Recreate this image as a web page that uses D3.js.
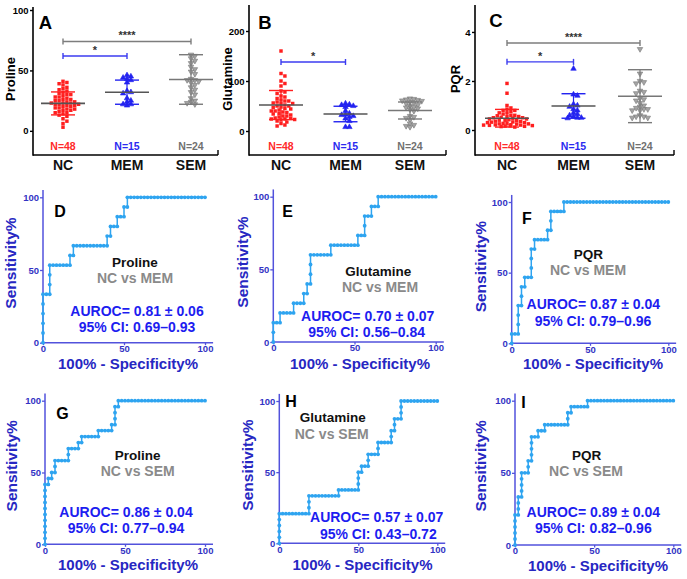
<!DOCTYPE html>
<html><head><meta charset="utf-8">
<script src="https://cdn.jsdelivr.net/npm/d3@7"></script>
<style>
body{margin:0;background:#fff}
svg{display:block}
text{font-family:"Liberation Sans",Arial,Helvetica,sans-serif;font-weight:bold}
</style>
</head><body>
<svg id="c" width="687" height="579"></svg>
<script>
// ---------------- DATA ----------------
const groups = ["NC", "MEM", "SEM"];
const groupN = ["N=48", "N=15", "N=24"];

const prolineNC = [3,6,8,10,12,13,14,15,15,16,17,17,18,18,19,19,20,20,21,21,22,22,22,23,23,23,24,24,25,25,26,26,27,28,28,29,30,30,31,32,33,34,35,36,38,39,40,41];
const prolineMEM = [21,22,22,24,25,27,31,32,33,40,42,43,44,45,46];
const prolineSEM = [63,62,60,58,56,53,51,49,47,43,42,42,41,40,38,36,34,32,30,27,25,24,23,22];
const prolineMean = [22.7, 32, 42.5];
const prolineSD = [9.5, 10, 20.5];

const glutNC = [160,115,110,100,95,90,80,78,75,70,68,65,62,60,60,58,56,55,55,52,50,50,48,47,45,44,42,40,40,38,37,35,34,32,30,30,28,26,25,24,24,23,22,20,18,15,12,10];
const glutMEM = [55,53,52,50,48,40,35,33,32,30,28,25,20,8,8];
const glutSEM = [65,64,63,62,61,60,58,57,55,52,50,48,47,45,43,40,30,28,26,22,15,12,10,8];
const glutMean = [52, 34, 41];
const glutSD = [29, 15.5, 17];

const pqrNC = [1.9,1.5,1.0,0.9,0.85,0.8,0.8,0.75,0.7,0.7,0.65,0.6,0.6,0.58,0.55,0.55,0.52,0.5,0.5,0.48,0.45,0.45,0.42,0.4,0.4,0.38,0.36,0.35,0.33,0.32,0.3,0.3,0.28,0.27,0.25,0.25,0.24,0.22,0.21,0.2,0.2,0.19,0.18,0.17,0.16,0.15,0.14,0.12];
const pqrMEM = [2.5,1.45,1.4,1.05,1.0,0.95,0.85,0.8,0.7,0.65,0.6,0.55,0.5,0.5,0.48];
const pqrSEM = [3.3,2.3,2.0,1.95,1.9,1.6,1.55,1.5,1.3,1.25,1.2,1.1,1.0,0.95,0.9,0.85,0.85,0.8,0.8,0.6,0.55,0.55,0.5,0.5];
const pqrMean = [0.48, 0.98, 1.38];
const pqrSD = [0.36, 0.5, 1.08];

// significance brackets: [fromGroup, toGroup, yValue, label]
const prolineSig = [["NC","SEM",74,"****"],["NC","MEM",62,"*"]];
const glutSig = [["NC","MEM",138,"*"]];
const pqrSig = [["NC","SEM",3.55,"****"],["NC","MEM",2.78,"*"]];

const yTicksProline = [0,50,100];
const yTicksGlut = [0,100,200];
const yTicksPQR = [0,2,4];

// ROC curves: vertices as [false-positive count, true-positive count]
const nNC = 48, nMEM = 15, nSEM = 24;
const rocD = [[0,0],[0,5],[2,5],[2,8],[8,8],[8,9],[9,9],[9,10],[19,10],[19,11],[20,11],[20,12],[22,12],[22,13],[24,13],[24,14],[25,14],[25,15],[48,15]];
const rocE = [[0,0],[0,2],[2,2],[2,3],[6,3],[6,4],[9,4],[9,5],[10,5],[10,6],[11,6],[11,9],[17,9],[17,10],[25,10],[25,11],[27,11],[27,13],[29,13],[29,14],[31,14],[31,15],[48,15]];
const rocF = [[0,0],[0,1],[2,1],[2,4],[3,4],[3,6],[4,6],[4,7],[6,7],[6,10],[7,10],[7,11],[11,11],[11,12],[12,12],[12,14],[16,14],[16,15],[48,15]];
const rocG = [[0,0],[0,10],[1,10],[1,11],[2,11],[2,12],[3,12],[3,14],[7,14],[7,16],[10,16],[10,17],[11,17],[11,18],[16,18],[16,19],[20,19],[20,20],[21,20],[21,23],[22,23],[22,24],[48,24]];
const rocH = [[0,0],[0,5],[9,5],[9,8],[18,8],[18,9],[24,9],[24,12],[25,12],[25,13],[27,13],[27,15],[30,15],[30,17],[34,17],[34,19],[35,19],[35,21],[37,21],[37,24],[48,24]];
const rocI = [[0,0],[0,5],[1,5],[1,8],[2,8],[2,12],[4,12],[4,14],[5,14],[5,18],[7,18],[7,19],[9,19],[9,20],[16,20],[16,22],[17,22],[17,23],[22,23],[22,24],[48,24]];
const rocTicks = [0,50,100];

const rocNames = ["Proline","Glutamine","PQR","Proline","Glutamine","PQR"];
const rocCompare = ["NC vs MEM","NC vs MEM","NC vs MEM","NC vs SEM","NC vs SEM","NC vs SEM"];
const rocAuc = ["AUROC= 0.81 \u00b1 0.06","AUROC= 0.70 \u00b1 0.07","AUROC= 0.87 \u00b1 0.04","AUROC= 0.86 \u00b1 0.04","AUROC= 0.57 \u00b1 0.07","AUROC= 0.89 \u00b1 0.04"];
const rocCI = ["95% CI: 0.69\u20130.93","95% CI: 0.56\u20130.84","95% CI: 0.79\u20130.96","95% CI: 0.77\u20130.94","95% CI: 0.43\u20130.72","95% CI: 0.82\u20130.96"];

// ---------------- DRAW ----------------
const svg = d3.select("#c");
const colRed = "#ff1f1f", colBlue = "#2323f0", colGray = "#7a7a7a";
const groupColors = [colRed, colBlue, colGray];
const nColors = ["#ff2a2a", "#2a2af0", "#707070"];

const topPanels = [
  {letter:"A", lx:45.5, ly:29, title:"Proline", tx:15, data:[prolineNC,prolineMEM,prolineSEM], mean:prolineMean, sd:prolineSD,
   domain:[-20,102.5], yTop:7, ticks:yTicksProline, sig:prolineSig, ax:33, xEnd:218, cat:[63,191]},
  {letter:"B", lx:265, ly:28.5, title:"Glutamine", tx:231.5, data:[glutNC,glutMEM,glutSEM], mean:glutMean, sd:glutSD,
   domain:[-48,252], yTop:5, ticks:yTicksGlut, sig:glutSig, ax:249, xEnd:446, cat:[281,410]},
  {letter:"C", lx:496, ly:27, title:"PQR", tx:460, data:[pqrNC,pqrMEM,pqrSEM], mean:pqrMean, sd:pqrSD,
   domain:[-1.02,5.1], yTop:5, ticks:yTicksPQR, sig:pqrSig, ax:475, xEnd:674, cat:[507,640]}
];

function swarm(vals, y, cx, d, maxHalf) {
  const pts = vals.map(v => ({v, y: y(v)})).sort((a,b) => a.y - b.y);
  const placed = [];
  for (const p of pts) {
    let chosen = 0;
    for (let k = 0; k < 80; k++) {
      const cands = k === 0 ? [0] : [k*d*0.5, -k*d*0.5];
      let ok = null;
      for (const dx of cands) {
        if (Math.abs(dx) > maxHalf) continue;
        if (placed.every(q => (q.dx-dx)*(q.dx-dx) + (q.y-p.y)*(q.y-p.y) >= d*d*0.7)) { ok = dx; break; }
      }
      if (ok !== null) { chosen = ok; break; }
      if (k*d*0.5 > maxHalf) { chosen = (placed.length % 2 ? 1 : -1) * ((placed.length * 3.7) % maxHalf); break; }
    }
    p.dx = chosen; placed.push(p);
  }
  return pts.map(p => ({v:p.v, x: cx + p.dx, y: p.y}));
}

topPanels.forEach(p => {
  const g = svg.append("g");
  const yBot = 155, yTop = p.yTop;
  const y = d3.scaleLinear().domain(p.domain).range([yBot, yTop]);
  const x = d3.scalePoint().domain(groups).range(p.cat);

  // axes
  g.append("line").attr("x1",p.ax).attr("x2",p.ax).attr("y1",yTop).attr("y2",yBot+0.8).attr("stroke","#000").attr("stroke-width",1.6);
  g.append("line").attr("x1",p.ax).attr("x2",p.xEnd).attr("y1",yBot).attr("y2",yBot).attr("stroke","#000").attr("stroke-width",1.6);
  g.append("line").attr("x1",p.xEnd).attr("x2",p.xEnd).attr("y1",yBot-5).attr("y2",yBot).attr("stroke","#000").attr("stroke-width",1.4);
  const axg = g.append("g").attr("transform",`translate(${p.ax},0)`)
    .call(d3.axisLeft(y).tickValues(p.ticks).tickSize(3).tickPadding(1.5).tickFormat(d3.format("d")));
  axg.select(".domain").remove();
  axg.selectAll(".tick line").attr("stroke","#000").attr("stroke-width",1.4);
  axg.selectAll(".tick text").attr("font-size",9.5).attr("fill","#000");
  axg.attr("font-family",null);

  // letter + title
  g.append("text").attr("x",p.lx).attr("y",p.ly).attr("text-anchor","middle").attr("font-size",18.5).attr("fill","#000").text(p.letter);
  g.append("text").attr("transform",`translate(${p.tx},79) rotate(-90)`).attr("text-anchor","middle").attr("font-size",13).attr("fill","#000").text(p.title);

  // points
  const shapes = [d3.symbolSquare, d3.symbolTriangle, d3.symbolTriangle];
  const sizes = [12, 13, 13];
  const halfW = [26, 14, 15];
  p.data.forEach((vals, i) => {
    const pts = swarm(vals, y, x(groups[i]), 3.9, halfW[i]);
    g.append("g").selectAll("path").data(pts).join("path")
      .attr("d", d3.symbol(shapes[i], sizes[i]))
      .attr("transform", d => `translate(${d.x},${d.y})` + (i === 2 ? " rotate(180)" : ""))
      .attr("fill", i === 2 ? "#a5a5a5" : groupColors[i])
      .attr("stroke", i === 0 ? "none" : (i === 2 ? "#777" : groupColors[i]))
      .attr("stroke-width", 0.6);
  });

  // mean / SD lines
  groups.forEach((gname, i) => {
    const cx = x(gname), m = p.mean[i], s = p.sd[i];
    const c = groupColors[i];
    g.append("line").attr("x1",cx).attr("x2",cx).attr("y1",y(m+s)).attr("y2",y(m-s)).attr("stroke",c).attr("stroke-width",1.2);
    [m+s, m-s].forEach(v => {
      g.append("line").attr("x1",cx-12).attr("x2",cx+12).attr("y1",y(v)).attr("y2",y(v)).attr("stroke",c).attr("stroke-width",1.4);
    });
    g.append("line").attr("x1",cx-22).attr("x2",cx+22).attr("y1",y(m)).attr("y2",y(m)).attr("stroke", i===2 ? "#777" : "#555").attr("stroke-width",1.6);
  });

  // significance
  p.sig.forEach(([a,b,v,lab]) => {
    const c = lab.length > 1 ? "#7d7d7d" : "#3b3bf0";
    const yy = y(v), xa = x(a), xb = x(b);
    g.append("line").attr("x1",xa).attr("x2",xb).attr("y1",yy).attr("y2",yy).attr("stroke",c).attr("stroke-width",1.4);
    [xa,xb].forEach(xx => g.append("line").attr("x1",xx).attr("x2",xx).attr("y1",yy-3).attr("y2",yy+3).attr("stroke",c).attr("stroke-width",1.4));
    g.append("text").attr("x",(xa+xb)/2).attr("y",yy-2).attr("text-anchor","middle").attr("font-size",11).attr("fill","#333").text(lab);
  });

  // N labels + category labels
  groups.forEach((gname, i) => {
    g.append("text").attr("x",x(gname)).attr("y",150).attr("text-anchor","middle").attr("font-size",10.5).attr("fill",nColors[i]).text(groupN[i]);
    g.append("text").attr("x",x(gname)).attr("y",169.5).attr("text-anchor","middle").attr("font-size",14).attr("fill","#111").text(gname);
  });
});

// ROC panels
const rocPanels = [
  {letter:"D", verts:rocD, nPos:nMEM, x0:43, x1:205, yb:342.7, yt:197.3, lx:60, ly:217, ytx:16, yty:263, xtx:128, xty:369,
   t:[[135,266.5],[135,282.5],[137,316],[137,332]]},
  {letter:"E", verts:rocE, nPos:nMEM, x0:273.3, x1:435.7, yb:342, yt:196.7, lx:287.5, ly:216.5, ytx:247.5, yty:262, xtx:360, xty:369,
   t:[[378.3,276],[380,292],[367.7,321],[366.7,336.7]]},
  {letter:"F", verts:rocF, nPos:nMEM, x0:511.7, x1:668.3, yb:343.3, yt:202, lx:527, ly:224, ytx:485.5, yty:266.7, xtx:593, xty:369,
   t:[[588.3,258.5],[588,275],[593.3,309],[593,326]]},
  {letter:"G", verts:rocG, nPos:nSEM, x0:45, x1:205, yb:544.3, yt:400.7, lx:62.5, ly:418.5, ytx:17, yty:465.8, xtx:128, xty:570,
   t:[[137.7,459.5],[137.7,476],[126,516.7],[126,533.3]]},
  {letter:"H", verts:rocH, nPos:nSEM, x0:279.3, x1:437.3, yb:543.3, yt:401, lx:291, ly:407, ytx:252.5, yty:465, xtx:362.5, xty:570,
   t:[[332.7,421.8],[331.7,438.5],[376.7,521.7],[378.3,539.3]]},
  {letter:"I", verts:rocI, nPos:nSEM, x0:515, x1:673.3, yb:545, yt:400.7, lx:523.5, ly:407.5, ytx:485.5, yty:465.8, xtx:598, xty:571,
   t:[[586.7,459.5],[586,476],[593.3,516.7],[593.3,533.3]]}
];

const rocLine = "#2ea4f0";
const axisBlue = "#5252dc";
const tickBlue = "#3333c4";
const titleBlue = "#2727c2";
const aucBlue = "#1d1df0";

rocPanels.forEach((p, idx) => {
  const g = svg.append("g");
  const x = d3.scaleLinear().domain([0,100]).range([p.x0, p.x1]);
  const y = d3.scaleLinear().domain([0,100]).range([p.yb, p.yt]);

  // axis lines
  g.append("line").attr("x1",x(0)).attr("x2",x(0)).attr("y1",y(-0.5)).attr("y2",y(105)).attr("stroke",axisBlue).attr("stroke-width",1.5);
  g.append("line").attr("x1",x(-0.5)).attr("x2",x(105)).attr("y1",y(0)).attr("y2",y(0)).attr("stroke",axisBlue).attr("stroke-width",1.5);

  const ay = g.append("g").attr("transform",`translate(${p.x0},0)`).call(d3.axisLeft(y).tickValues(rocTicks).tickSize(3).tickPadding(1));
  const ax = g.append("g").attr("transform",`translate(0,${p.yb})`).call(d3.axisBottom(x).tickValues(rocTicks).tickSize(2.5).tickPadding(0));
  [ay, ax].forEach(a => {
    a.attr("font-family", null);
    a.select(".domain").remove();
    a.selectAll(".tick line").attr("stroke",axisBlue).attr("stroke-width",1.3);
    a.selectAll(".tick text").attr("font-size",9.5).attr("fill",tickBlue);
  });

  // curve
  const pts = p.verts.map(([f,t]) => [f/nNC*100, t/p.nPos*100]);
  g.append("path").datum(pts)
    .attr("d", d3.line().x(d => x(d[0])).y(d => y(d[1])))
    .attr("fill","none").attr("stroke",rocLine).attr("stroke-width",1.5);
  // markers at every threshold step along the curve
  const marks = [];
  for (let i = 0; i < p.verts.length; i++) {
    const [f,t] = p.verts[i];
    if (i === 0) { marks.push([f,t]); continue; }
    const [pf,pt] = p.verts[i-1];
    const n = Math.max(Math.abs(f-pf), Math.abs(t-pt));
    for (let k = 1; k <= n; k++) marks.push([pf + (f-pf)*k/n, pt + (t-pt)*k/n]);
  }
  g.append("g").selectAll("circle").data(marks).join("circle")
    .attr("cx", d => x(d[0]/nNC*100)).attr("cy", d => y(d[1]/p.nPos*100))
    .attr("r", 1.9).attr("fill", rocLine);

  // letter
  g.append("text").attr("x",p.lx).attr("y",p.ly).attr("text-anchor","middle").attr("font-size",16).attr("fill","#000").text(p.letter);
  // axis titles
  g.append("text").attr("transform",`translate(${p.ytx},${p.yty}) rotate(-90)`).attr("text-anchor","middle")
    .attr("font-size",15.5).attr("fill",titleBlue).text("Sensitivity%");
  g.append("text").attr("x",p.xtx).attr("y",p.xty).attr("text-anchor","middle")
    .attr("font-size",15).attr("fill",titleBlue).text("100% - Specificity%");
  // annotations
  const texts = [rocNames[idx], rocCompare[idx], rocAuc[idx], rocCI[idx]];
  const fills = ["#111", "#8a8a8a", aucBlue, aucBlue];
  const fs = [13.5, 14, 14, 14];
  texts.forEach((s, k) => {
    g.append("text").attr("x",p.t[k][0]).attr("y",p.t[k][1]).attr("text-anchor","middle")
      .attr("font-size",fs[k]).attr("fill",fills[k]).text(s);
  });
});
</script>
</body></html>
